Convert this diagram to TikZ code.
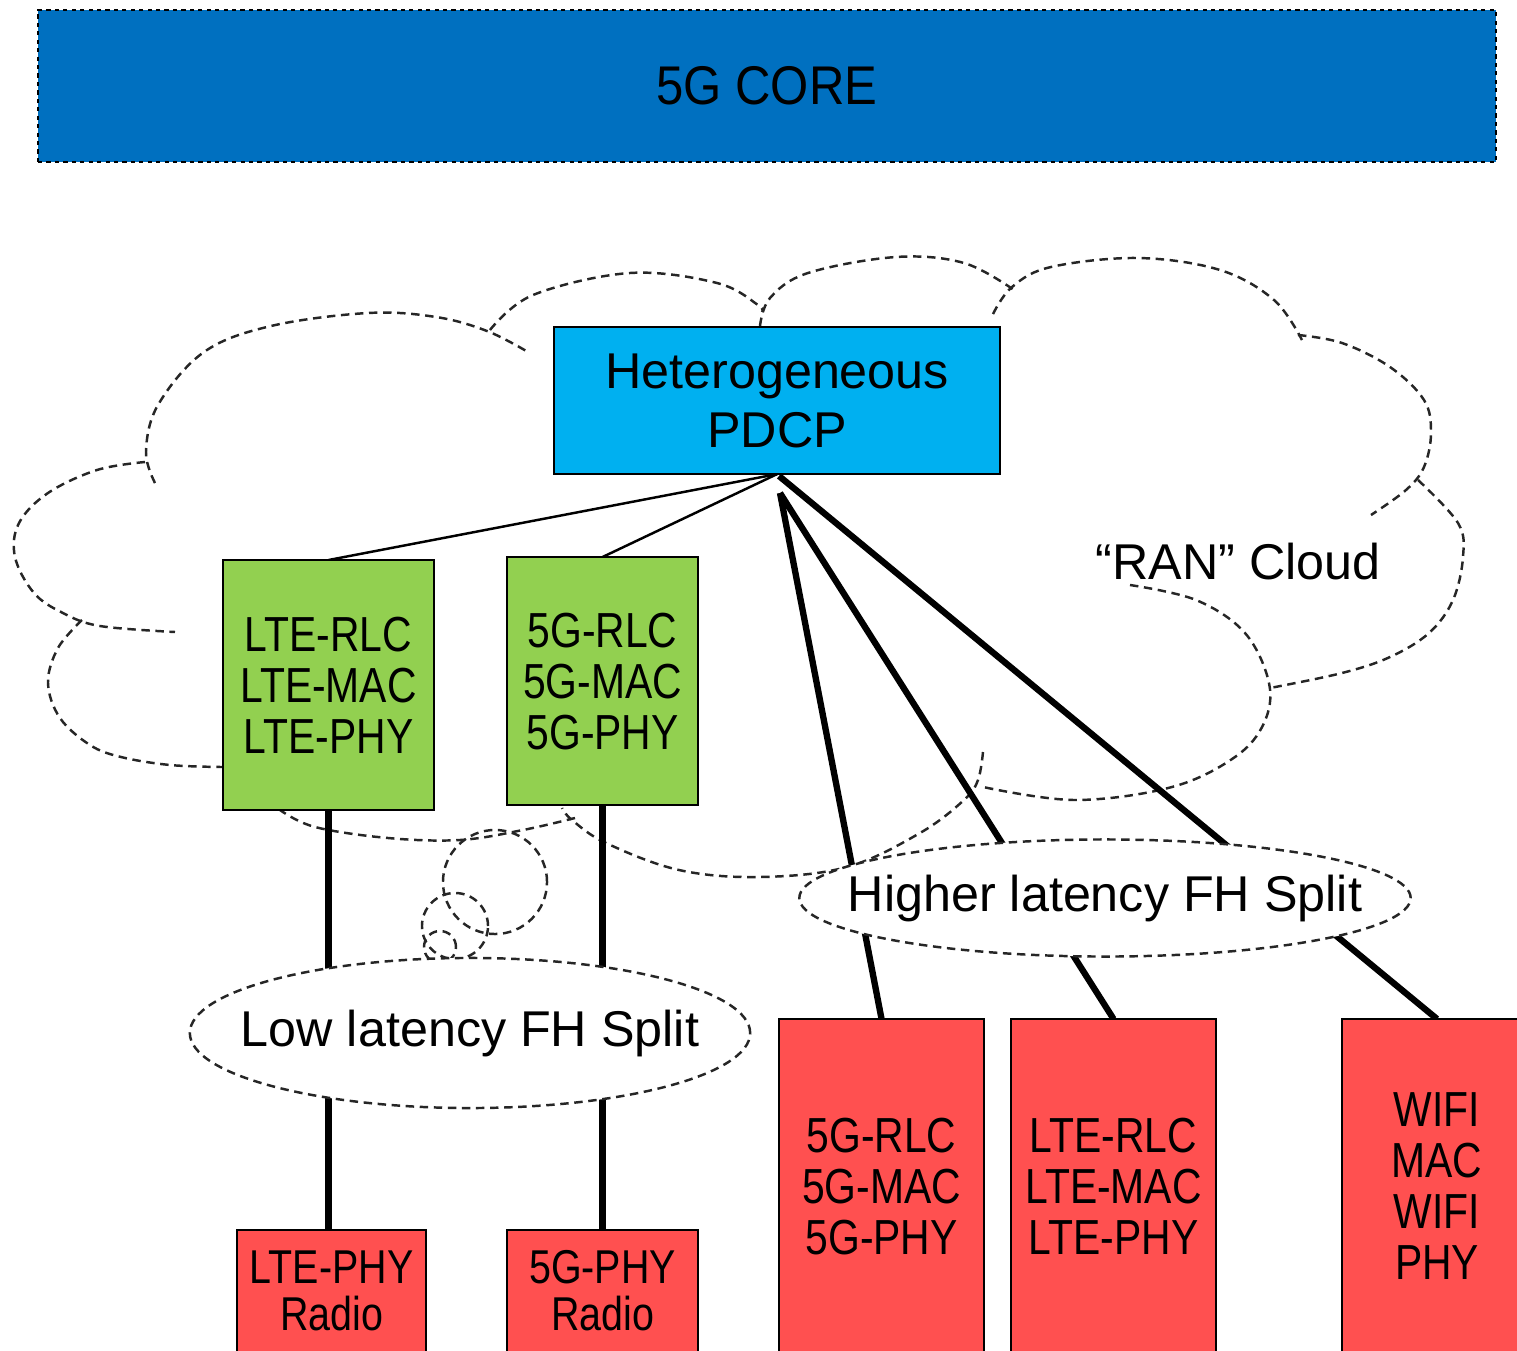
\documentclass[tikz,border=0pt]{standalone}
\usepackage{fontspec}
\setmainfont{Liberation Sans}
\newfontfamily\narrowfont[FakeStretch=0.83]{Liberation Sans}
\newfontfamily\corefont[FakeStretch=0.9]{Liberation Sans}
\usetikzlibrary{shapes.geometric}
\pgfdeclarelayer{bg}
\pgfsetlayers{bg,main}
\definecolor{coreblue}{HTML}{0070C0}
\definecolor{pdcpblue}{HTML}{00B0F0}
\definecolor{boxgreen}{HTML}{92D050}
\definecolor{boxred}{HTML}{FF5050}
\begin{document}
\begin{tikzpicture}[x=0.01cm,y=-0.01cm,
  box/.style={draw=black, line width=0.7pt, inner sep=0pt, outer sep=0pt, anchor=north west, align=center},
  layertext/.style={font=\narrowfont\fontsize{14}{14.5}\selectfont},
  radiotext/.style={font=\narrowfont\fontsize{13.5}{13.4}\selectfont},
  splitell/.style={ellipse, draw=black!85, line width=0.7pt, dash pattern=on 2.4pt off 1.6pt, fill=white, inner sep=0pt, outer sep=0pt, font=\fontsize{14.3}{16}\selectfont},
  cloudline/.style={draw=black!85, line width=0.7pt, dash pattern=on 2.4pt off 1.6pt},
  thinlink/.style={line width=0.7pt},
  thicklink/.style={line width=1.8pt}
]
\useasboundingbox (0,0) rectangle (1517,1351);

% core
\node[box, fill=coreblue, dash pattern=on 1.2pt off 1.2pt, minimum width=14.57cm, minimum height=1.52cm,
      font=\corefont\fontsize{15.5}{18}\selectfont] (core) at (38,10) {5G CORE};

% PDCP
\node[box, fill=pdcpblue, minimum width=4.46cm, minimum height=1.47cm,
      font=\fontsize{14.3}{16.8}\selectfont] (pdcp) at (554,327) {Heterogeneous\\PDCP};

% green boxes
\node[box, fill=boxgreen, minimum width=2.11cm, minimum height=2.50cm, layertext] (lte) at (223,560) {LTE-RLC\\LTE-MAC\\LTE-PHY};
\node[box, fill=boxgreen, minimum width=1.91cm, minimum height=2.48cm, layertext] (fiveg) at (507,557) {5G-RLC\\5G-MAC\\5G-PHY};

% red boxes
\node[box, fill=boxred, minimum width=2.05cm, minimum height=3.34cm, layertext] (red5g) at (779,1019) {5G-RLC\\5G-MAC\\5G-PHY};
\node[box, fill=boxred, minimum width=2.05cm, minimum height=3.34cm, layertext] (redlte) at (1011,1019) {LTE-RLC\\LTE-MAC\\LTE-PHY};
\node[box, fill=boxred, minimum width=1.90cm, minimum height=3.34cm, layertext] (wifi) at (1342,1019) {WIFI\\MAC\\WIFI\\PHY};
\node[box, fill=boxred, minimum width=1.89cm, minimum height=1.22cm, radiotext] (radlte) at (237,1230) {LTE-PHY\\Radio};
\node[box, fill=boxred, minimum width=1.91cm, minimum height=1.22cm, radiotext] (rad5g) at (507,1230) {5G-PHY\\Radio};

% split ellipses
\node[splitell, minimum width=5.6cm, minimum height=1.5cm] (lowsplit) at (470,1033) {\makebox[0pt]{Low latency FH Split}};
\node[splitell, minimum width=6.11cm, minimum height=1.17cm] (highsplit) at (1105,898) {\makebox[0pt]{Higher latency FH Split}};

% cloud label
\node[font=\fontsize{14.3}{16}\selectfont, inner sep=0pt] (ranlabel) at (1238,562) {“RAN” Cloud};

\begin{pgfonlayer}{bg}
  % cloud outline
  \draw[cloudline] plot[smooth, tension=0.6] coordinates {(155,483) (146,452) (158,405) (204,352) (271,326) (368,313) (436,317) (487,331) (528,352)};
  \draw[cloudline] plot[smooth, tension=0.6] coordinates {(490,330) (533,295) (630,273) (717,283) (758,305) (762,312)};
  \draw[cloudline] plot[smooth, tension=0.6] coordinates {(760,326) (770,298) (808,273) (896,257) (964,263) (1014,290)};
  \draw[cloudline] plot[smooth, tension=0.6] coordinates {(993,314) (1012,287) (1051,267) (1138,258) (1220,270) (1274,300) (1302,340)};
  \draw[cloudline] plot[smooth, tension=0.6] coordinates {(1298,335) (1342,343) (1390,367) (1424,400) (1431,433) (1424,467) (1406,490) (1371,515)};
  \draw[cloudline] plot[smooth, tension=0.6] coordinates {(1418,480) (1458,523) (1463,557) (1453,600) (1429,633) (1390,657) (1342,673) (1270,688)};
  \draw[cloudline] plot[smooth, tension=0.6] coordinates {(1130,585) (1196,600) (1245,633) (1269,683) (1264,723) (1235,757) (1172,787) (1075,800) (983,787)};
  \draw[cloudline] plot[smooth, tension=0.6] coordinates {(983,752) (978,780) (964,800) (920,833) (847,867) (760,877) (679,870) (606,843) (572,820) (562,808)};
  \draw[cloudline] plot[smooth, tension=0.6] coordinates {(575,818) (523,830) (460,840) (388,838) (315,827) (280,810)};
  \draw[cloudline] plot[smooth, tension=0.6] coordinates {(82,620) (58,648) (48,683) (60,718) (90,745) (121,757) (170,765) (222,767)};
  \draw[cloudline] plot[smooth, tension=0.6] coordinates {(145,462) (97,470) (48,493) (19,523) (15,557) (34,593) (63,613) (100,626) (175,632)};
  % thought bubbles
  \draw[cloudline] (495,882) circle[radius=0.52cm];
  \draw[cloudline] (455,926) circle[radius=0.33cm];
  \draw[cloudline] (440,947) circle[radius=0.16cm];

  % links
  \coordinate (hubA) at (779,476);
  \coordinate (hubB) at (780,493);
  \draw[thinlink] (pdcp.south) -- (lte.north);
  \draw[thinlink] (pdcp.south) -- (fiveg.north);
  \draw[thicklink] (hubB) -- (red5g.north);
  \draw[thicklink] (hubB) -- (redlte.north);
  \draw[thicklink] (hubA) -- (wifi.north);
  \draw[thicklink] (lte.south) -- (lte.south |- radlte.north);
  \draw[thicklink] (fiveg.south) -- (fiveg.south |- rad5g.north);
\end{pgfonlayer}
\end{tikzpicture}
\end{document}
